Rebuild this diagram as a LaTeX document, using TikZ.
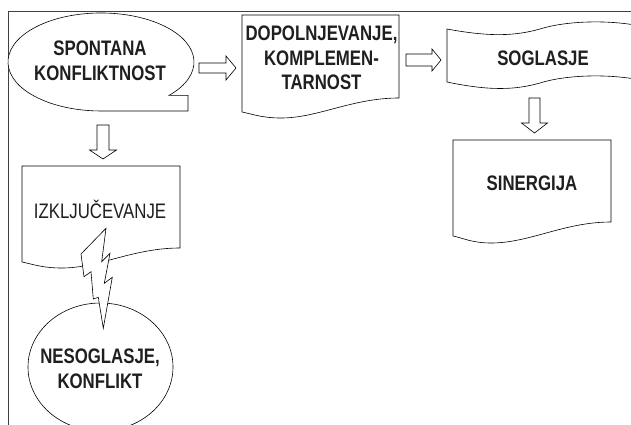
\documentclass[tikz,border=0pt]{standalone}
\usepackage{fontspec}
\newfontfamily\narrowsans[FakeStretch=0.8]{Liberation Sans}
\newcommand\rightblock[6]{%
  \draw[blockarrow] (#1,#3-#4) -- (#2-#6,#3-#4) -- (#2-#6,#3-#5) -- (#2,#3)
    -- (#2-#6,#3+#5) -- (#2-#6,#3+#4) -- (#1,#3+#4) -- cycle;}
\newcommand\downblock[6]{%
  \draw[blockarrow] (#1-#4,#2) -- (#1-#4,#3-#6) -- (#1-#5,#3-#6) -- (#1,#3)
    -- (#1+#5,#3-#6) -- (#1+#4,#3-#6) -- (#1+#4,#2) -- cycle;}
\begin{document}
\begin{tikzpicture}[x=1pt,y=-1pt,
  shapeline/.style={draw=black, line width=0.6pt, fill=white},
  blockarrow/.style={draw=black, line width=0.6pt, fill=white},
  frameline/.style={draw=black!75, line width=1.3pt},
  lbl/.style={font=\narrowsans\bfseries\fontsize{21}{24.5}\selectfont, align=center, inner sep=0pt, text=black!88},
  lblreg/.style={font=\narrowsans\fontsize{21}{24.5}\selectfont, align=center, inner sep=0pt, text=black!88}]
\useasboundingbox (0,0) rectangle (631,425);
\clip (0,0) rectangle (631,425);
\fill[white] (0,0) rectangle (631,425);
% frame
\draw[frameline] (8.5,425) -- (8.5,11.5) -- (631,11.5);
% spontana callout
\draw[shapeline] (169,95.4) arc[start angle=43, end angle=-270, x radius=93, y radius=49]
  -- (188,111) -- (188,95.4) -- cycle;
% dopolnjevanje document
\draw[shapeline] (242,15) -- (399,15) -- (399,98) .. controls (352,98) and (318,118) .. (281,118)
  .. controls (262,118) and (252,114) .. (242,112) -- cycle;
% soglasje tape
\draw[shapeline] (447,29) .. controls (490,37) and (515,36) .. (540,29)
  .. controls (565,21) and (610,19) .. (645,27) -- (645,81)
  .. controls (610,73) and (565,75) .. (540,83)
  .. controls (515,90) and (490,91) .. (447,82) -- cycle;
% sinergija document
\draw[shapeline] (453,140) -- (611,140) -- (611,222) .. controls (564,222) and (530,243) .. (491,243)
  .. controls (472,243) and (463,238) .. (453,236) -- cycle;
% izkljucevanje document
\draw[shapeline] (22,166) -- (180,166) -- (180,248) .. controls (133,248) and (99,268) .. (62,268)
  .. controls (42,268) and (32,264) .. (22,262) -- cycle;
% nesoglasje ellipse
\draw[shapeline] (100.5,367) ellipse[x radius=72.5, y radius=64];
% lightning bolt
\draw[shapeline, line join=miter] (106,228.3) -- (101.7,261.7) -- (110,253.3) -- (104.3,283.3)
  -- (112.3,277.3) -- (103.3,328.3) -- (98.3,297.3) -- (93.3,299) -- (91,271.7)
  -- (84,276.7) -- (81,254) -- cycle;
% block arrows
\rightblock{199}{236}{68}{5}{12}{10}
\rightblock{406}{441}{60}{6}{11}{9}
\downblock{534.5}{98}{133}{5.5}{13}{10}
\downblock{103}{125}{159}{6}{13.5}{9}
% labels
\node[lbl] (spont) at (100,61) {SPONTANA\\KONFLIKTNOST};
\node[lbl] (dop) at (321.5,58) {DOPOLNJEVANJE,\\KOMPLEMEN-\\TARNOST};
\node[lbl] (sogl) at (543,58) {SOGLASJE};
\node[lbl] (sin) at (532,183) {SINERGIJA};
\node[lblreg] (izk) at (100,209) {IZKLJUČEVANJE};
\node[lbl] (neso) at (100,369) {NESOGLASJE,\\KONFLIKT};
\end{tikzpicture}
\end{document}
